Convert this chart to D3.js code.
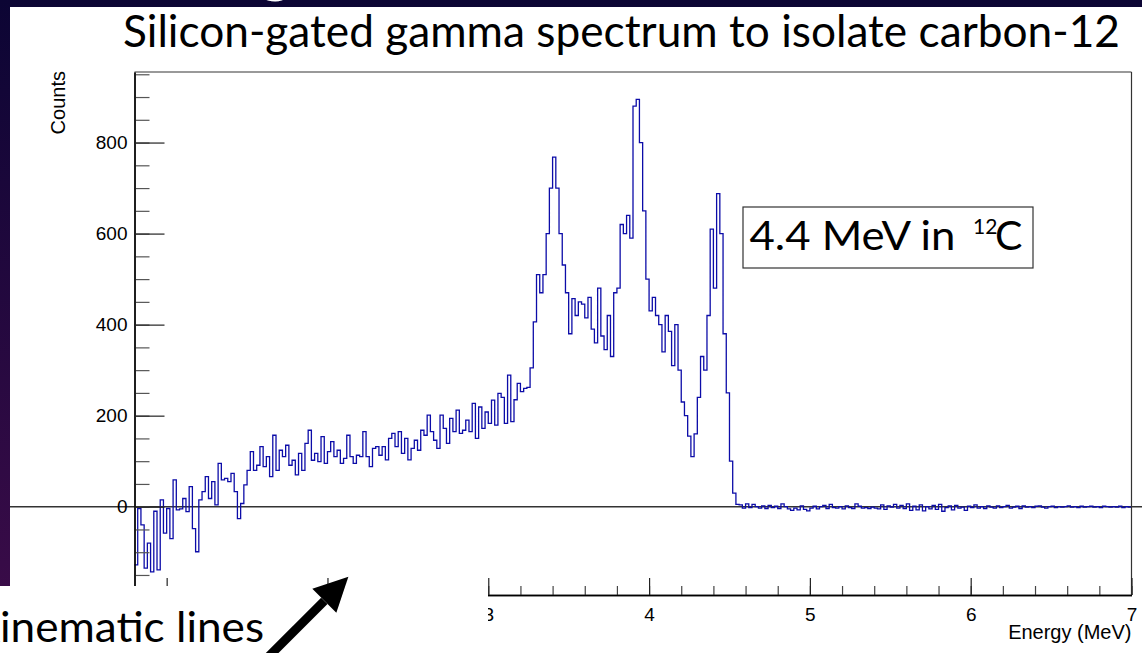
<!DOCTYPE html>
<html><head><meta charset="utf-8">
<script src="https://cdn.jsdelivr.net/npm/d3@7"></script>
<style>html,body{margin:0;padding:0;background:#fff;overflow:hidden}</style>
</head><body>
<svg id="c" width="1142" height="653"></svg>
<script>
// ---------------- data ----------------
const binStart = 0.8;      // MeV, low edge of first bin
const binWidth = 0.02;     // MeV
const counts = [
  -128, -4, -40, -135, -80, -143, -10, -139, 15, -58, -4, -70, 59,
  -7, -5, 18, -11, 44, -48, -99, 15, 33, 66, 18, 55, 4, 95, 59, 62, 55, 73,
  33, -26, 7, 48, 80, 121, 80, 91, 132, 88, 110, 66, 157, 80, 124, 110, 135, 91, 102, 70,
  117, 80, 139, 168, 102, 117, 99, 154, 95, 121, 143,
  110, 124, 95, 106, 157, 110, 95, 113, 110, 165, 110, 88, 128, 132, 113, 132, 103, 150,
  161, 132, 165, 117, 150, 103, 128, 146, 124, 168, 157, 201, 165, 146, 128, 201, 172, 139,
  194, 165, 212, 161, 168, 190, 165, 227, 150, 219, 172, 208, 183, 234, 179, 249,
  240, 183, 289, 187, 235, 271, 253, 260, 262, 305, 406, 510, 470, 510, 600, 700, 768, 700,
  600, 531, 470, 380, 457, 420, 450, 445, 415, 460, 390, 360, 480, 375, 345, 420, 330, 470,
  480, 620, 600, 640, 590, 880, 895, 800, 650, 500, 430, 460, 420, 400, 340, 420, 385, 310,
  400, 300, 230, 200, 155, 110, 160, 240, 330, 300, 420, 610, 480, 688, 600, 380, 250, 100,
  30, 5,
  4, -3, 6, -2, 5, 0, -3, 2, -4, 3,
  -2, 1, -4, 6, 0, -5, -8, -3, -7, 2,
  -6, -9, -3, 1, -5, 0, 3, -4, 5, -2,
  -3, 0, -5, 2, -2, -4, 6, 1, -3, -2,
  -4, -1, -3, -5, 4, -6, 2, -1, 5, -3,
  3, -4, 6, -8, 1, -7, 4, -9, 0, -5,
  3, -6, 5, -10, -2, 2, -7, 3, -3, -1,
  -8, 1, -2, 4, -3, 0, -4, 2, -1, -3,
  2, -2, 0, 3, -3, -1, 1, -4, 2, -1,
  0, -2, 1, 2, -1, -3, 0, 1, -2, 0,
  -1, 0, 2, -1, 0, -2, 1, -1, 0, 1,
  -1, 0, -2, 1, 0, -1, 0, -1, 1, -2, 0, -1
];
const xDomain = [0.8, 7.0];
const yDomain = [-194, 955];
const xTicks = [1, 2, 3, 4, 5, 6, 7];
const xTicksLabelled = [3, 4, 5, 6, 7];   // 1 and 2 are hidden under the slide's text box
const yTicks = [0, 200, 400, 600, 800];
const xMinorStep = 0.2;
const yMinorStep = 50;
const titleText = "Silicon-gated gamma spectrum to isolate carbon-12";
const xTitle = "Energy (MeV)";
const yTitle = "Counts";
const noteMain = "4.4 MeV in";
const noteSup = "12";
const noteEl = "C";
const sideNote = "Kinematic lines";
const arrowTip = [2.13, -154];   // energy (MeV), counts

// ---------------- layout ----------------
const W = 1142, H = 653;
const frame = {left: 134.5, right: 1131.5, top: 72, bottom: 595};
const svg = d3.select("#c");
const axisFont = "'Liberation Sans', Arial, Helvetica, sans-serif";
const slideFont = "Lato, 'Open Sans', sans-serif";

const x = d3.scaleLinear().domain(xDomain).range([frame.left, frame.right]);
const y = d3.scaleLinear().domain(yDomain).range([frame.bottom, frame.top]);

// background
const defs = svg.append("defs");
const grad = defs.append("linearGradient").attr("id", "bg").attr("x1", 0).attr("y1", 0).attr("x2", 0).attr("y2", 1);
grad.append("stop").attr("offset", "0%").attr("stop-color", "#0c0534");
grad.append("stop").attr("offset", "100%").attr("stop-color", "#3e0c4a");
svg.append("rect").attr("width", W).attr("height", H).attr("fill", "url(#bg)");

// remnant of slide heading above the picture
svg.append("text").attr("x", 259).attr("y", -10)
  .attr("font-family", slideFont).attr("font-size", 64).attr("fill", "#fff").text("g");

// white picture panel
svg.append("rect").attr("x", 10).attr("y", 7).attr("width", W - 10).attr("height", H - 7).attr("fill", "#fff");

// title
svg.append("text").attr("x", 123).attr("y", 47)
  .attr("font-family", slideFont).attr("font-size", 44).attr("fill", "#000")
  .attr("textLength", 997).attr("lengthAdjust", "spacingAndGlyphs")
  .text(titleText);

// zero line across the picture
svg.append("line").attr("x1", 10).attr("x2", W).attr("y1", y(0)).attr("y2", y(0))
  .attr("stroke", "#333").attr("stroke-width", 1.4);

// histogram
const pts = counts.map((c, i) => [binStart + i * binWidth, c]);
pts.push([binStart + counts.length * binWidth, counts[counts.length - 1]]);
const line = d3.line().x(d => x(d[0])).y(d => y(d[1])).curve(d3.curveStepAfter);
svg.append("path").attr("d", line(pts)).attr("fill", "none")
  .attr("stroke", "#0c0ca8").attr("stroke-width", 1.3);

// frame
svg.append("line").attr("x1", frame.left).attr("x2", frame.right).attr("y1", frame.top).attr("y2", frame.top)
  .attr("stroke", "#777").attr("stroke-width", 1.6);
svg.append("line").attr("x1", frame.right).attr("x2", frame.right).attr("y1", frame.top).attr("y2", frame.bottom)
  .attr("stroke", "#333").attr("stroke-width", 1.2);

function styleAxis(g) {
  g.select(".domain").attr("stroke", "#000").attr("stroke-width", 1.3);
  g.selectAll(".tick line").attr("stroke", "#222").attr("stroke-width", 1.2);
  g.selectAll(".tick text").attr("font-family", axisFont).attr("font-size", 19).attr("fill", "#000");
}

// y axis (ticks drawn inward)
const yMinor = d3.range(-150, yDomain[1] + 1, yMinorStep);
svg.append("g").attr("transform", `translate(${frame.left},0)`)
  .call(d3.axisLeft(y).tickValues(yMinor).tickSize(-15).tickSizeOuter(0).tickFormat(""))
  .call(g => { styleAxis(g); g.selectAll(".tick line").attr("stroke", "#555"); });
svg.append("g").attr("transform", `translate(${frame.left},0)`)
  .call(d3.axisLeft(y).tickValues(yTicks).tickSize(-30).tickSizeOuter(0).tickPadding(7).tickFormat(d3.format("d")))
  .call(styleAxis);

// x axis
const xMinor = d3.range(xDomain[0], xDomain[1] + 1e-6, xMinorStep);
svg.append("g").attr("transform", `translate(0,${frame.bottom})`)
  .call(d3.axisBottom(x).tickValues(xMinor).tickSize(-9).tickSizeOuter(0).tickFormat(""))
  .call(g => { styleAxis(g); g.selectAll(".tick line").attr("stroke", "#444"); });
svg.append("g").attr("transform", `translate(0,${frame.bottom})`)
  .call(d3.axisBottom(x).tickValues(xTicks).tickSize(-17).tickSizeOuter(0).tickPadding(13)
    .tickFormat(d => xTicksLabelled.includes(d) ? d3.format("d")(d) : ""))
  .call(styleAxis)
  .call(g => g.selectAll(".tick text").filter(function () { return this.textContent === ""; }).remove());

// axis titles
svg.append("text").attr("x", frame.right).attr("y", 639).attr("text-anchor", "end")
  .attr("font-family", axisFont).attr("font-size", 20).attr("fill", "#000").text(xTitle);
svg.append("text").attr("transform", `translate(65,${frame.top - 1}) rotate(-90)`).attr("text-anchor", "end")
  .attr("font-family", axisFont).attr("font-size", 20).attr("fill", "#000").text(yTitle);

// annotation box
svg.append("rect").attr("x", 743).attr("y", 207).attr("width", 290).attr("height", 61)
  .attr("fill", "#fff").attr("stroke", "#333").attr("stroke-width", 1.2);
const note = svg.append("text").attr("font-family", slideFont).attr("fill", "#000");
note.append("tspan").attr("x", 749.5).attr("y", 250).attr("font-size", 41)
  .attr("textLength", 206).attr("lengthAdjust", "spacingAndGlyphs").text(noteMain);
note.append("tspan").attr("x", 973).attr("y", 233.5).attr("font-size", 21).text(noteSup);
note.append("tspan").attr("x", 995).attr("y", 250).attr("font-size", 41).text(noteEl);

// white box of the slide text (covers lower left)
svg.append("rect").attr("x", 0).attr("y", 586).attr("width", 488).attr("height", H - 586).attr("fill", "#fff");
// the text's first letter runs off the left edge; "inematic lines" spans x ~0..264
const side = svg.append("text").attr("x", 264).attr("y", 642).attr("text-anchor", "end")
  .attr("font-family", slideFont).attr("font-size", 42).attr("fill", "#000").text(sideNote);
{
  const probe = svg.append("text").attr("font-family", slideFont).attr("font-size", 42).text(sideNote.slice(1));
  const rest = probe.node().getComputedTextLength();
  probe.remove();
  const full = side.node().getComputedTextLength();
  side.attr("textLength", full * 264 / rest).attr("lengthAdjust", "spacingAndGlyphs");
}

// arrow
const tipX = x(arrowTip[0]), tipY = y(arrowTip[1]);
const ang = 3 * Math.PI / 4;               // shaft runs down-left from the tip
const dx = Math.cos(ang), dy = Math.sin(ang);
const headLen = 34, headHalf = 17, shaftLen = 120;
const bx = tipX + dx * headLen, by = tipY + dy * headLen;
svg.append("line").attr("x1", bx).attr("y1", by)
  .attr("x2", tipX + dx * shaftLen).attr("y2", tipY + dy * shaftLen)
  .attr("stroke", "#000").attr("stroke-width", 9);
const px = -dy, py = dx;
svg.append("path").attr("d",
  `M${tipX},${tipY}L${bx + px * headHalf},${by + py * headHalf}L${bx - px * headHalf},${by - py * headHalf}Z`)
  .attr("fill", "#000");
</script>
</body></html>
